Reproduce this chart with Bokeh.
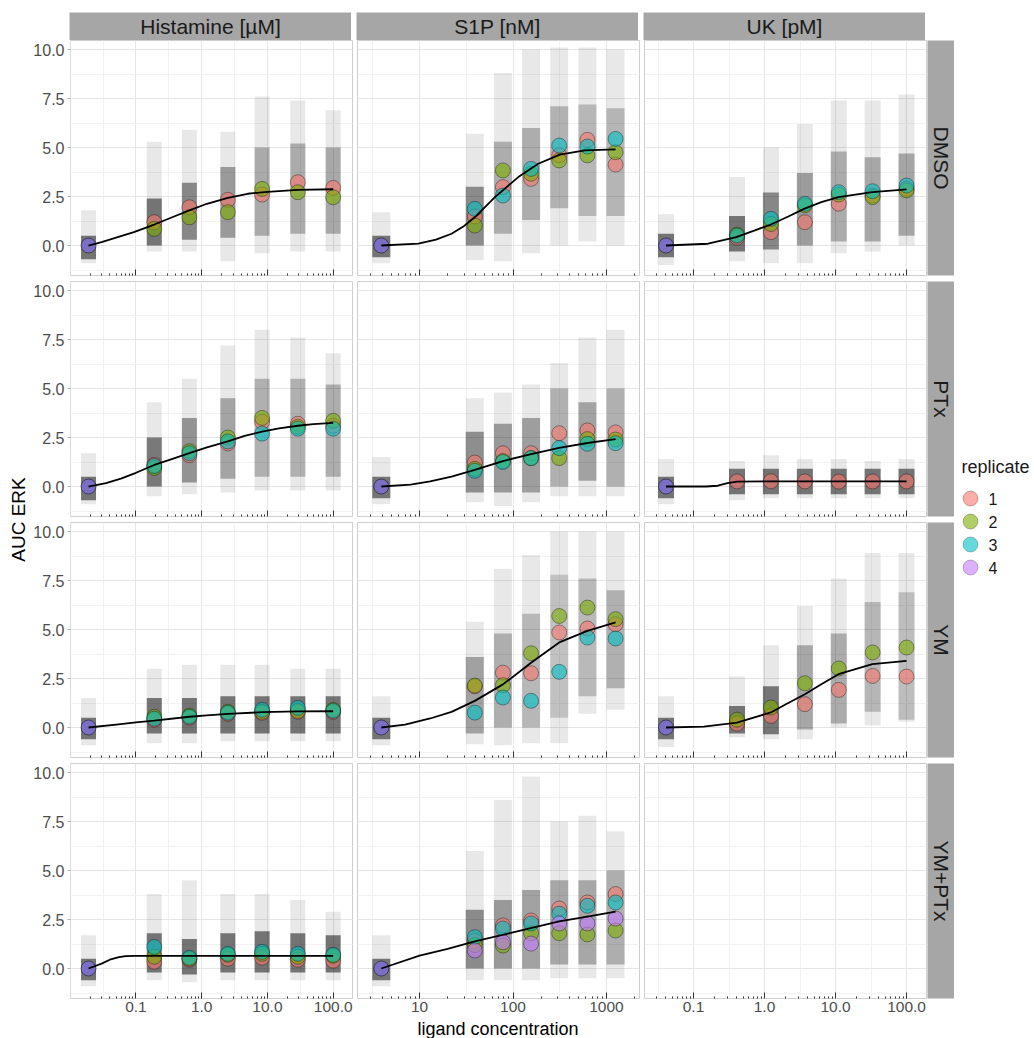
import math

from bokeh.core.properties import value
from bokeh.embed import file_html
from bokeh.layouts import column, row
from bokeh.models import FixedTicker, Grid, PrintfTickFormatter, Range1d, Spacer
from bokeh.plotting import figure
from bokeh.resources import INLINE

# ---------------------------------------------------------------- data
COL_LABELS = ["Histamine [µM]", "S1P [nM]", "UK [pM]"]
ROW_LABELS = ["DMSO", "PTx", "YM", "YM+PTx"]
REPLICATES = ["1", "2", "3", "4"]
REP_COLORS = ["#F8766D", "#7CAE00", "#00BFC4", "#C77CFF"]

# ligand concentrations, first entry = vehicle control
HIS_CONC = [0.019, 0.19, 0.65, 2.5, 8.3, 29, 100]
S1P_CONC = [3.9, 39, 78, 156, 312, 625, 1250]
UK_CONC = [0.041, 0.41, 1.23, 3.7, 11.1, 33.3, 100]
CONTROL_AUC = 0.0

# replicate means (one value per ligand dose, control excluded)
HIS_DMSO_REPS = {"1": [1.19, 1.95, 2.33, 2.60, 3.23, 2.94],
                 "2": [0.85, 1.44, 1.70, 2.89, 2.72, 2.46]}
S1P_DMSO_REPS = {"1": [1.48, 2.98, 3.40, 4.60, 5.39, 4.13],
                 "2": [1.02, 3.83, 3.66, 4.34, 4.60, 4.76],
                 "3": [1.87, 2.55, 3.91, 5.10, 5.05, 5.44]}
UK_DMSO_REPS = {"1": [0.40, 0.68, 1.19, 2.13, 2.55, 2.90],
                "2": [0.55, 1.10, 2.05, 2.60, 2.47, 2.81],
                "3": [0.50, 1.36, 2.13, 2.72, 2.77, 3.06]}
HIS_PTX_REPS = {"1": [1.10, 1.60, 2.20, 3.30, 3.20, 3.10],
                "2": [0.95, 1.80, 2.50, 3.50, 3.05, 3.35],
                "3": [1.05, 1.70, 2.30, 2.70, 2.95, 2.95]}
S1P_PTX_REPS = {"1": [1.22, 1.70, 1.70, 2.72, 2.86, 2.76],
                "2": [0.90, 1.30, 1.45, 1.45, 2.42, 2.40],
                "3": [0.80, 1.25, 1.45, 1.96, 2.18, 2.21]}
UK_PTX_REPS = {"1": [0.26, 0.27, 0.26, 0.25, 0.26, 0.26]}
HIS_YM_REPS = {"1": [0.40, 0.50, 0.70, 0.75, 0.80, 0.80],
               "2": [0.55, 0.60, 0.80, 0.80, 0.85, 0.90],
               "3": [0.45, 0.55, 0.75, 0.90, 1.00, 0.85]}
S1P_YM_REPS = {"1": [2.10, 2.80, 2.77, 4.85, 5.05, 5.27],
               "2": [2.14, 2.16, 3.79, 5.69, 6.12, 5.53],
               "3": [0.76, 1.53, 1.36, 2.84, 4.59, 4.54]}
UK_YM_REPS = {"1": [0.20, 0.59, 1.19, 1.92, 2.63, 2.60],
              "2": [0.40, 1.02, 2.26, 3.01, 3.83, 4.08]}
HIS_YMPTX_REPS = {"1": [0.35, 0.45, 0.50, 0.55, 0.45, 0.40],
                  "2": [0.60, 0.50, 0.70, 0.75, 0.60, 0.65],
                  "3": [1.10, 0.55, 0.75, 0.85, 0.75, 0.70]}
S1P_YMPTX_REPS = {"1": [1.40, 2.20, 2.45, 3.06, 3.37, 3.80],
                  "2": [1.20, 1.17, 1.80, 1.80, 1.74, 1.94],
                  "3": [1.60, 2.04, 2.30, 2.80, 3.20, 3.37],
                  "4": [0.92, 1.34, 1.27, 2.30, 2.30, 2.55]}

# single-cell spread per dose (control first): full extent and dense core
HIS_DMSO_OUTER = [(-0.9, 1.8), (-0.3, 5.3), (-0.3, 5.9), (-0.8, 5.8), (-0.4, 7.6), (-0.3, 7.4), (-0.3, 6.9)]
HIS_DMSO_CORE = [(-0.7, 0.5), (0.0, 2.4), (0.3, 3.2), (0.4, 4.0), (0.5, 5.0), (0.6, 5.2), (0.6, 5.0)]
S1P_DMSO_OUTER = [(-0.9, 1.7), (-0.75, 5.7), (-0.8, 8.8), (-0.4, 10.0), (0.0, 10.1), (0.2, 10.1), (0.0, 10.0)]
S1P_DMSO_CORE = [(-0.6, 0.5), (0.0, 3.0), (0.6, 5.3), (1.3, 6.0), (1.9, 7.1), (1.5, 7.2), (1.5, 7.0)]
UK_DMSO_OUTER = [(-1.0, 1.6), (-0.8, 3.5), (-0.9, 5.0), (-0.9, 6.2), (-0.4, 7.4), (-0.3, 7.4), (0.0, 7.7)]
UK_DMSO_CORE = [(-0.6, 0.6), (-0.3, 1.5), (-0.2, 2.7), (0.0, 3.7), (0.2, 4.8), (0.2, 4.5), (0.5, 4.7)]
HIS_PTX_OUTER = [(-0.9, 1.7), (-0.5, 4.3), (-0.4, 5.5), (-0.3, 7.2), (-0.2, 8.0), (-0.2, 7.6), (-0.2, 6.8)]
HIS_PTX_CORE = [(-0.7, 0.5), (0.0, 2.5), (0.2, 3.5), (0.4, 4.5), (0.5, 5.5), (0.5, 5.5), (0.5, 5.2)]
S1P_PTX_OUTER = [(-0.9, 1.5), (-0.8, 4.5), (-1.0, 4.8), (-0.8, 5.2), (-0.5, 6.3), (-0.5, 7.6), (-0.5, 8.0)]
S1P_PTX_CORE = [(-0.6, 0.5), (-0.3, 2.8), (-0.3, 3.2), (-0.3, 3.5), (0.0, 5.0), (0.3, 4.3), (0.0, 5.0)]
UK_PTX_OUTER = [(-0.9, 1.4), (-0.7, 1.3), (-0.6, 1.6), (-0.6, 1.4), (-0.6, 1.4), (-0.6, 1.3), (-0.6, 1.4)]
UK_PTX_CORE = [(-0.6, 0.5), (-0.4, 0.9), (-0.4, 0.9), (-0.4, 0.9), (-0.4, 0.9), (-0.4, 0.9), (-0.4, 0.9)]
HIS_YM_OUTER = [(-0.9, 1.5), (-0.8, 3.0), (-0.8, 3.2), (-0.7, 3.2), (-0.7, 3.2), (-0.7, 3.0), (-0.7, 3.0)]
HIS_YM_CORE = [(-0.6, 0.5), (-0.3, 1.5), (-0.3, 1.5), (-0.3, 1.6), (-0.3, 1.6), (-0.3, 1.6), (-0.3, 1.6)]
S1P_YM_OUTER = [(-0.9, 1.6), (-0.85, 5.4), (-0.9, 8.1), (-0.8, 8.8), (-0.8, 10.0), (0.7, 10.0), (0.9, 10.0)]
S1P_YM_CORE = [(-0.6, 0.5), (-0.3, 3.6), (0.0, 4.8), (0.0, 5.8), (0.5, 7.8), (1.6, 7.6), (2.0, 7.0)]
UK_YM_OUTER = [(-1.0, 1.6), (-0.5, 2.6), (-0.6, 4.2), (-0.6, 6.2), (0.0, 7.6), (0.1, 8.9), (0.3, 8.9)]
UK_YM_CORE = [(-0.6, 0.5), (-0.3, 1.1), (-0.35, 2.1), (-0.1, 4.2), (0.2, 4.8), (0.8, 6.4), (0.4, 6.9)]
HIS_YMPTX_OUTER = [(-0.9, 1.7), (-0.6, 3.8), (-0.7, 4.5), (-0.6, 3.8), (-0.6, 3.8), (-0.6, 3.5), (-0.6, 2.9)]
HIS_YMPTX_CORE = [(-0.6, 0.5), (-0.2, 1.8), (-0.3, 1.5), (-0.2, 1.8), (-0.2, 1.9), (-0.2, 1.8), (-0.2, 1.7)]
S1P_YMPTX_OUTER = [(-0.9, 1.7), (-0.6, 6.0), (-0.6, 8.6), (-0.6, 9.8), (-0.5, 7.5), (-0.5, 7.8), (-0.5, 7.0)]
S1P_YMPTX_CORE = [(-0.6, 0.5), (0.0, 3.0), (0.0, 3.5), (0.0, 4.0), (0.2, 4.5), (0.2, 4.5), (0.2, 5.0)]

# fitted dose-response curves: (concentration, AUC)
HIS_DMSO_FIT = [(0.019, 0), (0.03, 0.17), (0.093, 0.68), (0.19, 1.07), (0.38, 1.48), (0.65, 1.79),
                (1.2, 2.13), (2.5, 2.43), (5, 2.64), (10, 2.74), (29, 2.84), (100, 2.87)]
S1P_DMSO_FIT = [(3.9, 0), (9.7, 0.1), (15, 0.3), (22, 0.6), (30, 1.0), (39, 1.44), (64, 2.47),
                (114, 3.49), (186, 4.17), (317, 4.64), (585, 4.85), (1250, 4.9)]
UK_DMSO_FIT = [(0.041, 0), (0.16, 0.09), (0.40, 0.43), (0.73, 0.77), (1.23, 1.07), (2.16, 1.48),
               (3.6, 1.87), (6.3, 2.21), (11, 2.47), (33, 2.72), (100, 2.86)]
HIS_PTX_FIT = [(0.019, 0), (0.035, 0.17), (0.059, 0.4), (0.1, 0.7), (0.19, 1.1), (0.35, 1.4),
               (0.65, 1.7), (1.2, 2.0), (2.5, 2.3), (4.5, 2.58), (8.3, 2.8), (15, 2.97),
               (29, 3.1), (50, 3.18), (100, 3.25)]
S1P_PTX_FIT = [(3.9, 0), (8, 0.1), (13, 0.26), (22, 0.5), (39, 0.85), (78, 1.3), (156, 1.65),
               (312, 1.97), (625, 2.22), (1250, 2.42)]
UK_PTX_FIT = [(0.041, 0), (0.15, 0.0), (0.22, 0.04), (0.3, 0.17), (0.41, 0.25), (1.0, 0.26), (100, 0.26)]
HIS_YM_FIT = [(0.019, 0), (0.05, 0.15), (0.1, 0.26), (0.19, 0.35), (0.65, 0.55), (1.2, 0.62),
              (2.5, 0.7), (8.3, 0.78), (29, 0.82), (100, 0.83)]
S1P_YM_FIT = [(3.9, 0), (7, 0.15), (13, 0.46), (22, 0.8), (39, 1.36), (78, 2.2), (156, 3.3),
              (312, 4.34), (625, 4.93), (1250, 5.36)]
UK_YM_FIT = [(0.041, 0), (0.14, 0.05), (0.41, 0.25), (1.23, 0.77), (2.0, 1.19), (3.7, 1.7),
             (6.3, 2.21), (11, 2.72), (33, 3.23), (100, 3.4)]
HIS_YMPTX_FIT = [(0.019, 0), (0.03, 0.25), (0.04, 0.45), (0.055, 0.58), (0.07, 0.63), (0.1, 0.64),
                 (100, 0.64)]
S1P_YMPTX_FIT = [(3.9, 0), (10, 0.66), (20, 1.0), (39, 1.38), (100, 1.84), (312, 2.4),
                 (625, 2.65), (1250, 2.9)]

PANELS = {
    (0, 0): (HIS_CONC, HIS_DMSO_REPS, HIS_DMSO_OUTER, HIS_DMSO_CORE, HIS_DMSO_FIT),
    (0, 1): (S1P_CONC, S1P_DMSO_REPS, S1P_DMSO_OUTER, S1P_DMSO_CORE, S1P_DMSO_FIT),
    (0, 2): (UK_CONC, UK_DMSO_REPS, UK_DMSO_OUTER, UK_DMSO_CORE, UK_DMSO_FIT),
    (1, 0): (HIS_CONC, HIS_PTX_REPS, HIS_PTX_OUTER, HIS_PTX_CORE, HIS_PTX_FIT),
    (1, 1): (S1P_CONC, S1P_PTX_REPS, S1P_PTX_OUTER, S1P_PTX_CORE, S1P_PTX_FIT),
    (1, 2): (UK_CONC, UK_PTX_REPS, UK_PTX_OUTER, UK_PTX_CORE, UK_PTX_FIT),
    (2, 0): (HIS_CONC, HIS_YM_REPS, HIS_YM_OUTER, HIS_YM_CORE, HIS_YM_FIT),
    (2, 1): (S1P_CONC, S1P_YM_REPS, S1P_YM_OUTER, S1P_YM_CORE, S1P_YM_FIT),
    (2, 2): (UK_CONC, UK_YM_REPS, UK_YM_OUTER, UK_YM_CORE, UK_YM_FIT),
    (3, 0): (HIS_CONC, HIS_YMPTX_REPS, HIS_YMPTX_OUTER, HIS_YMPTX_CORE, HIS_YMPTX_FIT),
    (3, 1): (S1P_CONC, S1P_YMPTX_REPS, S1P_YMPTX_OUTER, S1P_YMPTX_CORE, S1P_YMPTX_FIT),
}

# ---------------------------------------------------------------- style
FONT = "Liberation Sans"
PANEL_W, PANEL_H = 282, 235
ROW_GAP, BOTTOM_AXIS, XLAB_H, TOP_PAD = 6, 20, 20, 12
Y_RANGE = (-1.53, 10.46)
X_RANGES = [(0.0101, 196.8), (2.17, 2254.0), (0.0204, 191.0)]
X_FORMATS = ["%.1f", "%d", "%.1f"]
CLOUD_PX = [15, 18, 16]
STRIP_FILL = "#a6a6a6"
CONTROL_COLOR = "#7b6fc8"

DECADES = [10.0 ** k for k in range(-3, 5)]
HALF_DECADES = [10.0 ** (k + 0.5) for k in range(-3, 5)]
LOG_MINOR = [m * 10.0 ** k for k in range(-3, 5) for m in range(2, 10)]


def bare(fw, fh, **kw):
    p = figure(frame_width=fw, frame_height=fh, x_range=Range1d(0, 1), y_range=Range1d(0, 1),
               x_axis_location=None, y_axis_location=None, toolbar_location=None,
               output_backend="svg", title=None, outline_line_color=None, **kw)
    p.grid.visible = False
    return p


def strip(label, fw, fh, angle=0.0, bottom=0):
    p = bare(fw, fh, min_border_left=0, min_border_right=0, min_border_top=0,
             min_border_bottom=bottom, background_fill_color=STRIP_FILL)
    p.text(x=[0.5], y=[0.5], text=[label], angle=angle, text_align="center",
           text_baseline="middle", text_font=value(FONT), text_font_size="21px",
           text_color="#1a1a1a")
    return p


def panel(ri, ci):
    last = ri == len(ROW_LABELS) - 1
    p = figure(x_axis_type="log", x_range=Range1d(*X_RANGES[ci]), y_range=Range1d(*Y_RANGE),
               frame_width=PANEL_W, frame_height=PANEL_H,
               min_border_left=39 if ci == 0 else 0, min_border_right=1 if ci == 2 else 5,
               min_border_top=0, min_border_bottom=BOTTOM_AXIS if last else ROW_GAP,
               toolbar_location=None, output_backend="svg", title=None,
               outline_line_color="#cfcfcf", outline_line_width=1)
    p.grid.visible = False
    p.add_layout(Grid(dimension=0, ticker=FixedTicker(ticks=DECADES, minor_ticks=HALF_DECADES),
                      grid_line_color="#e6e6e6", minor_grid_line_color="#f2f2f2"))
    p.add_layout(Grid(dimension=1, ticker=FixedTicker(ticks=[0, 2.5, 5, 7.5, 10],
                                                      minor_ticks=[-1.25, 1.25, 3.75, 6.25, 8.75]),
                      grid_line_color="#e6e6e6", minor_grid_line_color="#f2f2f2"))

    ax = p.xaxis[0]
    ax.ticker = FixedTicker(ticks=DECADES, minor_ticks=LOG_MINOR)
    ax.formatter = PrintfTickFormatter(format=X_FORMATS[ci])
    ax.axis_line_color = None
    ax.major_tick_in, ax.major_tick_out = 6, 0
    ax.minor_tick_in, ax.minor_tick_out = 2, 0
    ax.major_tick_line_color = ax.minor_tick_line_color = "#333333"
    ax.major_label_text_font = FONT
    if last:
        ax.major_label_text_font_size = "15.5px"
        ax.major_label_text_color = "#4d4d4d"
        ax.major_label_standoff = 3
    else:
        ax.major_label_text_font_size = "1px"
        ax.major_label_text_alpha = 0
        ax.major_label_standoff = 0

    ay = p.yaxis[0]
    ay.ticker = FixedTicker(ticks=[0, 2.5, 5, 7.5, 10])
    ay.formatter = PrintfTickFormatter(format="%.1f")
    ay.axis_line_color = None
    ay.minor_tick_in = ay.minor_tick_out = 0
    ay.major_tick_in = 0
    if ci == 0:
        ay.major_tick_out = 3
        ay.major_tick_line_color = "#b3b3b3"
        ay.major_label_text_font = FONT
        ay.major_label_text_font_size = "16px"
        ay.major_label_text_color = "#4d4d4d"
        ay.major_label_standoff = 3
    else:
        ay.visible = False

    if (ri, ci) not in PANELS:
        return p
    conc, reps, outer, core, fit = PANELS[(ri, ci)]

    # single-cell clouds
    p.segment(x0=conc, y0=[lo for lo, _ in outer], x1=conc, y1=[hi for _, hi in outer],
              line_width=CLOUD_PX[ci], line_color="black", line_alpha=0.09)
    p.segment(x0=conc, y0=[lo for lo, _ in core], x1=conc, y1=[hi for _, hi in core],
              line_width=CLOUD_PX[ci], line_color="black",
              line_alpha=[min(0.5, 1.2 / (hi - lo)) for lo, hi in core])

    # replicate means
    for rep, vals in reps.items():
        color = REP_COLORS[REPLICATES.index(rep)]
        p.scatter(x=conc[1:], y=vals, size=15, fill_color=color, fill_alpha=0.6,
                  line_color="black", line_alpha=0.45, line_width=0.8)
    p.scatter(x=[conc[0]], y=[CONTROL_AUC], size=15, fill_color=CONTROL_COLOR, fill_alpha=0.95,
              line_color="black", line_alpha=0.6, line_width=0.8)

    p.line(x=[c for c, _ in fit], y=[v for _, v in fit], line_color="black", line_width=1.8)
    return p


# ---------------------------------------------------------------- layout
top = row(Spacer(width=39, height=28), strip(COL_LABELS[0], PANEL_W, 28), Spacer(width=5, height=28),
          strip(COL_LABELS[1], PANEL_W, 28), Spacer(width=5, height=28),
          strip(COL_LABELS[2], PANEL_W, 28))

rows = []
for ri, lab in enumerate(ROW_LABELS):
    bottom = BOTTOM_AXIS if ri == len(ROW_LABELS) - 1 else ROW_GAP
    rows.append(row(panel(ri, 0), panel(ri, 1), panel(ri, 2),
                    strip(lab, 27, PANEL_H, angle=-math.pi / 2, bottom=bottom)))

xlab = bare(3 * PANEL_W + 2 * 5 + 1, XLAB_H, min_border=0)
xlab.text(x=[0.5], y=[0], text=["ligand concentration"], text_align="center",
          text_baseline="bottom", text_font=value(FONT), text_font_size="18px",
          text_color="black")

grid_col = column(Spacer(height=TOP_PAD), top, *rows, row(Spacer(width=39, height=XLAB_H), xlab))

total_h = TOP_PAD + 28 + 3 * (PANEL_H + ROW_GAP) + PANEL_H + BOTTOM_AXIS + XLAB_H
ylab = bare(30, total_h, min_border=0)
ylab.text(x=[0.6], y=[0.5], text=["AUC ERK"], angle=math.pi / 2, text_align="center",
          text_baseline="middle", text_font=value(FONT), text_font_size="19px", text_color="black")

leg = figure(frame_width=78, frame_height=130, x_range=Range1d(-16, 62), y_range=Range1d(4.652, -1.0),
             x_axis_location=None, y_axis_location=None, toolbar_location=None, min_border=0,
             output_backend="svg", title=None, outline_line_color=None)
leg.grid.visible = False
rep_y = [int(r) for r in REPLICATES]
leg.scatter(x=[0] * len(REPLICATES), y=rep_y, size=15, fill_color=REP_COLORS, fill_alpha=0.6,
            line_color="black", line_alpha=0.3, line_width=0.8)
leg.text(x=[0] * len(REPLICATES), y=rep_y, text=REPLICATES, x_offset=18, text_baseline="middle",
         text_font=value(FONT), text_font_size="16px", text_color="#1a1a1a")
leg.text(x=[-9], y=[-0.35], text=["replicate"], text_baseline="middle",
         text_font=value(FONT), text_font_size="18px", text_color="#1a1a1a")

p = row(ylab, grid_col, column(Spacer(height=452), leg))

open("out.html", "w").write(file_html(p, INLINE))
